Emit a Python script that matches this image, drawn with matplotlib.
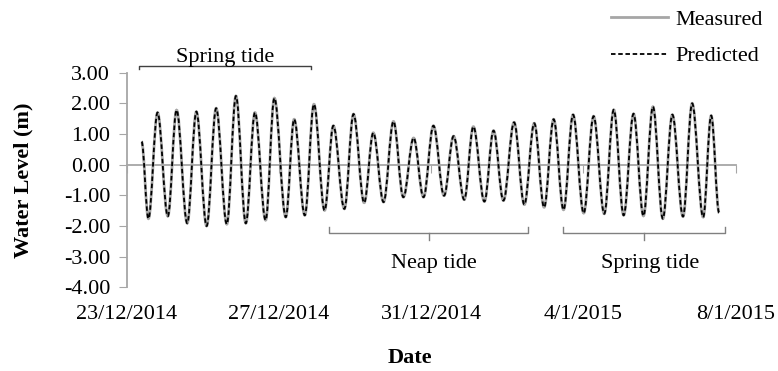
import matplotlib
matplotlib.use("Agg")
import matplotlib.pyplot as plt
import numpy as np
from matplotlib.path import Path
from matplotlib.patches import PathPatch
from matplotlib.lines import Line2D

plt.rcParams['font.family'] = ['Liberation Serif', 'DejaVu Serif']

# days after 23/12/2014 00:00
start_day, start_level = 0.39, 0.75
end_day, end_level = 15.57, -1.57
high_days = [0.81, 1.31, 1.83, 2.35, 2.87, 3.37, 3.88, 4.40, 4.92, 5.43,
             5.96, 6.48, 7.01, 7.54, 8.06, 8.59, 9.11, 9.64, 10.18, 10.71,
             11.22, 11.73, 12.27, 12.80, 13.32, 13.83, 14.34, 14.86, 15.36]
high_levels = [1.70, 1.78, 1.73, 1.84, 2.24, 1.70, 2.17, 1.48, 1.97, 1.27,
               1.65, 1.04, 1.41, 0.87, 1.27, 0.93, 1.24, 1.11, 1.38, 1.35,
               1.48, 1.63, 1.58, 1.79, 1.66, 1.89, 1.63, 2.00, 1.60]
low_days = [0.57, 1.08, 1.59, 2.10, 2.63, 3.13, 3.65, 4.18, 4.68, 5.20,
            5.72, 6.24, 6.75, 7.27, 7.80, 8.34, 8.87, 9.40, 9.90, 10.45,
            10.97, 11.48, 12.01, 12.55, 13.06, 13.58, 14.09, 14.62, 15.15]
low_levels = [-1.76, -1.68, -1.91, -2.00, -1.94, -1.91, -1.81, -1.71, -1.65, -1.49,
              -1.44, -1.24, -1.22, -1.06, -1.06, -1.01, -1.14, -1.20, -1.17, -1.30,
              -1.39, -1.47, -1.58, -1.60, -1.65, -1.67, -1.76, -1.69, -1.71]
# predicted curve sits on top of the measured one
pred_high_levels = list(high_levels)
pred_low_levels = list(low_levels)

date_ticks = [0, 4, 8, 12, 16]
date_labels = ['23/12/2014', '27/12/2014', '31/12/2014', '4/1/2015', '8/1/2015']
level_ticks = [-4, -3, -2, -1, 0, 1, 2, 3]
level_labels = ['-4.00', '-3.00', '-2.00', '-1.00', '0.00', '1.00', '2.00', '3.00']

# tide phase annotations: (start day, end day, label)
spring1 = (0.33, 4.85, 'Spring tide')
neap = (5.32, 10.55, 'Neap tide')
spring2 = (11.47, 15.73, 'Spring tide')

GREY = '#A6A6A6'


def tide_path(hd, hl, ld, ll):
    # smooth curve between turning points, drawn as bezier segments
    pts = sorted([(start_day, start_level), (end_day, end_level)] +
                 list(zip(hd, hl)) + list(zip(ld, ll)))
    verts = [pts[0]]
    codes = [Path.MOVETO]
    for (x0, y0), (x1, y1) in zip(pts[:-1], pts[1:]):
        k = 0.363 * (x1 - x0)
        verts += [(x0 + k, y0), (x1 - k, y1), (x1, y1)]
        codes += [Path.CURVE4] * 3
    return Path(verts, codes)


fig = plt.figure(figsize=(7.78, 3.71), dpi=100)
ax = fig.add_axes([0.1629, 0.2256, 0.7825, 0.5784])

ax.add_patch(PathPatch(tide_path(high_days, high_levels, low_days, low_levels),
                       fill=False, edgecolor=GREY, lw=2.0, zorder=3))
ax.add_patch(PathPatch(tide_path(high_days, pred_high_levels, low_days, pred_low_levels),
                       fill=False, edgecolor='black', lw=1.3,
                       linestyle=(0, (2.5, 1.5)), zorder=4))

ax.set_xlim(0, 16)
ax.set_ylim(-4, 3)
ax.set_yticks(level_ticks)
ax.set_yticklabels(level_labels, fontsize=16)
ax.set_xticks(date_ticks)
ax.set_xticklabels(date_labels, fontsize=16)
ax.tick_params(axis='x', length=0, pad=13)
ax.tick_params(axis='y', direction='out', length=6, color=GREY, pad=6)
for s in ['top', 'right', 'bottom']:
    ax.spines[s].set_visible(False)
ax.spines['left'].set_color(GREY)
ax.spines['left'].set_linewidth(1.3)

# horizontal axis crossing at zero
zero_ax = ax.secondary_xaxis(4 / 7)
zero_ax.set_xticks(date_ticks)
zero_ax.set_xticklabels([])
zero_ax.xaxis.set_ticks_position('bottom')
zero_ax.tick_params(axis='x', length=6, color=GREY, direction='out',
                    labelbottom=False, labeltop=False)
for sp in zero_ax.spines.values():
    sp.set_color(GREY)
    sp.set_linewidth(1.3)

# brackets
x0, x1, txt = spring1
ax.plot([x0, x0, x1, x1], [3.12, 3.22, 3.22, 3.12], color='#404040', lw=1, clip_on=False)
ax.text((x0 + x1) / 2, 3.5, txt, ha='center', va='center', fontsize=16)
for x0, x1, txt in [neap, spring2]:
    xm = (x0 + x1) / 2
    ax.plot([x0, x0, x1, x1], [-2.02, -2.24, -2.24, -2.02], color='#808080', lw=1)
    ax.plot([xm, xm], [-2.24, -2.46], color='#808080', lw=1)
    ax.text(xm + 0.15, -3.21, txt, ha='center', va='center', fontsize=16)

fig.text(0.03, 0.515, 'Water Level (m)', rotation=90, ha='center', va='center',
         fontsize=16, fontweight='bold')
fig.text(0.527, 0.035, 'Date', ha='center', va='center', fontsize=16, fontweight='bold')

handles = [Line2D([], [], color=GREY, lw=2.0),
           Line2D([], [], color='black', lw=1.3, linestyle=(0, (2.5, 1.5)))]
fig.legend(handles, ['Measured', 'Predicted'], loc='upper left',
           bbox_to_anchor=(611 / 778, 0.975), frameon=False, fontsize=16,
           borderpad=0, borderaxespad=0, handlelength=2.57, handletextpad=0.32,
           labelspacing=0.72)

fig.savefig('out.png', dpi=100)
